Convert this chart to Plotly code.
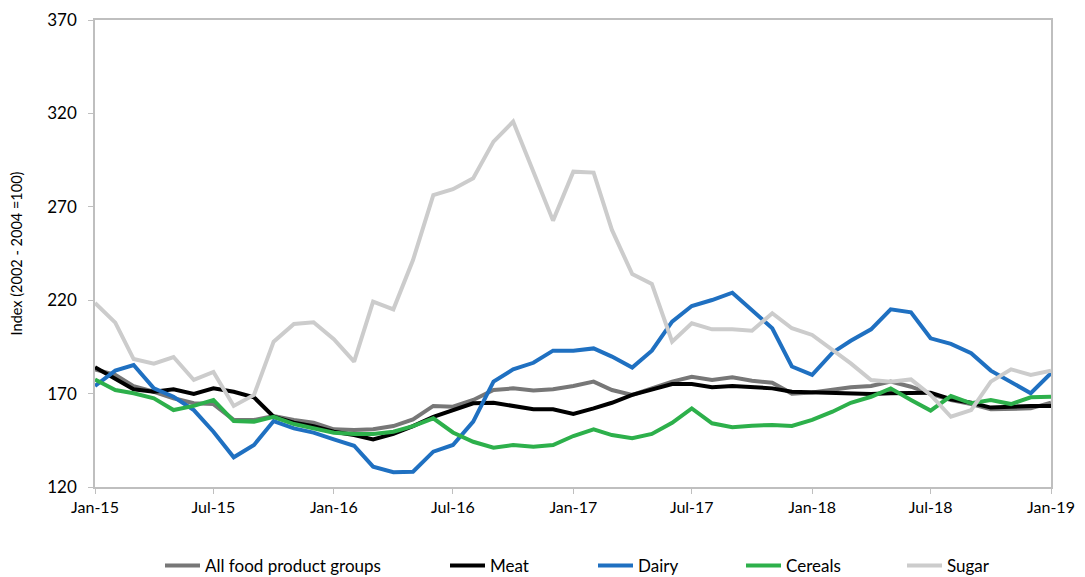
import pandas as pd
import plotly.graph_objects as go

months = pd.date_range("2015-01-01", "2019-01-01", freq="MS")

all_food = [183, 180, 174, 171, 167.5, 164.8, 164.4, 155.9, 155.9, 158, 155.9, 154.4,
            150.9, 150.5, 150.9, 152.6, 156.2, 163.4, 163, 166.6, 171.9, 172.8, 171.6, 172.3,
            174.1, 176.4, 171.9, 169.3, 172.8, 176.4, 179, 177.3, 178.7, 176.9, 175.8, 170,
            170.6, 171.9, 173.4, 174.1, 176.4, 173.7, 169.8, 166.6, 164.4, 161.6, 161.6, 162.1, 165.1]
meat = [184.1, 178.2, 172.3, 171, 172.3, 169.8, 172.8, 171, 168, 157.6, 154.4, 152.6,
        149.6, 147.8, 145.5, 148.4, 152.6, 157.6, 161.4, 164.8, 165.1, 163.4, 161.6, 161.6,
        159.1, 162.1, 165.1, 169.3, 172.3, 175.1, 175.1, 173.4, 174.1, 173.4, 172.8, 171,
        170.7, 170.7, 170.6, 169.8, 170.2, 170.2, 170.5, 167, 165.1, 162.5, 163, 163.4, 163.4]
dairy = [174.1, 182.3, 185.3, 172.8, 168.3, 161.2, 149.6, 135.9, 142.5, 155.3, 151.4, 149.1,
         145.5, 142.1, 130.9, 127.9, 128.2, 138.9, 142.5, 155, 176.4, 183, 186.5, 193,
         193, 194.2, 189.8, 183.9, 193, 208.5, 216.9, 220.1, 224, 214.8, 205, 184.5,
         180, 191.9, 198.3, 204.4, 215.1, 213.5, 199.6, 196.6, 191.6, 182.3, 176.4, 170.2, 180.9]
cereals = [177.6, 171.9, 170.2, 167.5, 161.2, 163.4, 166.6, 155.3, 155, 157.6, 153.7, 151.4,
           149.1, 148.4, 148.4, 149.6, 152.6, 156.8, 149.2, 144.2, 141, 142.5, 141.6, 142.5,
           147.3, 150.9, 147.8, 146.1, 148.4, 154.4, 162.1, 154.1, 152, 152.8, 153.2, 152.7,
           155.9, 160.3, 165.1, 168.3, 172.8, 166.6, 160.9, 168.7, 164.8, 166.6, 164.4, 168, 168.3]
sugar = [218.5, 208, 188.5, 186, 189.6, 177.3, 181.6, 163.4, 169.3, 197.8, 207.3, 208.2,
         199.1, 187.1, 219.2, 215.1, 241.5, 276.3, 279.4, 285.3, 304.9, 315.6, 288.8, 262.6,
         288.8, 288.3, 257.6, 234, 228.7, 197.8, 207.6, 204.4, 204.4, 203.7, 213, 205,
         201.4, 193.3, 186.2, 177.3, 176.4, 177.6, 169.3, 157.6, 161.2, 176.4, 183, 180, 182.3]

series_names = ["All food product groups", "Meat", "Dairy", "Cereals", "Sugar"]
series_values = [all_food, meat, dairy, cereals, sugar]
series_colors = ["#777777", "#000000", "#1F70C1", "#2DB04B", "#CCCCCC"]

y_ticks = [120, 170, 220, 270, 320, 370]

FONT = "Lato"
W, H = 1077, 569  # page body has an 8px margin

fig = go.Figure()
legend_x_px = [166, 451, 599, 747, 908]
for k, (name, vals, col) in enumerate(zip(series_names, series_values, series_colors)):
    lg = "legend" if k == 0 else f"legend{k+1}"
    fig.add_trace(go.Scatter(x=months, y=vals, name=name, mode="lines",
                             line=dict(color=col, width=4), legend=lg))

legend_common = dict(orientation="h", xref="container", yref="container",
                     yanchor="middle", xanchor="left", y=1 - (566 - 8) / H,
                     font=dict(family=FONT, size=17, color="#000000"),
                     bgcolor="rgba(0,0,0,0)", itemwidth=35)
layout_legends = {}
for k, px in enumerate(legend_x_px):
    key = "legend" if k == 0 else f"legend{k+1}"
    layout_legends[key] = dict(legend_common, x=(px - 14) / W)

fig.update_layout(
    width=W, height=H,
    margin=dict(l=87, r=34, t=12, b=90, autoexpand=False),
    paper_bgcolor="white", plot_bgcolor="white",
    showlegend=True,
    font=dict(family=FONT, size=16, color="#000000"),
    xaxis=dict(
        type="date", automargin=False,
        range=[months[0], months[-1]],
        tickmode="linear", tick0="2015-01-01", dtick="M6",
        tickformat="%b-%y",
        ticks="outside", ticklen=5, tickcolor="#BFBFBF",
        showline=True, linecolor="#BFBFBF", linewidth=1.5, mirror=True,
        showgrid=False, zeroline=False,
        tickfont=dict(family=FONT, size=16, color="#000000"),
    ),
    yaxis=dict(
        automargin=False,
        range=[120, 370],
        tickvals=y_ticks,
        ticks="outside", ticklen=5, tickcolor="#BFBFBF",
        ticklabelstandoff=8,
        showline=True, linecolor="#BFBFBF", linewidth=1.5, mirror=True,
        showgrid=False, zeroline=False,
        tickfont=dict(family=FONT, size=17, color="#000000"),
        title=dict(text="Index (2002 - 2004 =100)", font=dict(family=FONT, size=14.5, color="#000000"),
                   standoff=22),
    ),
    **layout_legends,
)

fig.write_html("out.html")
